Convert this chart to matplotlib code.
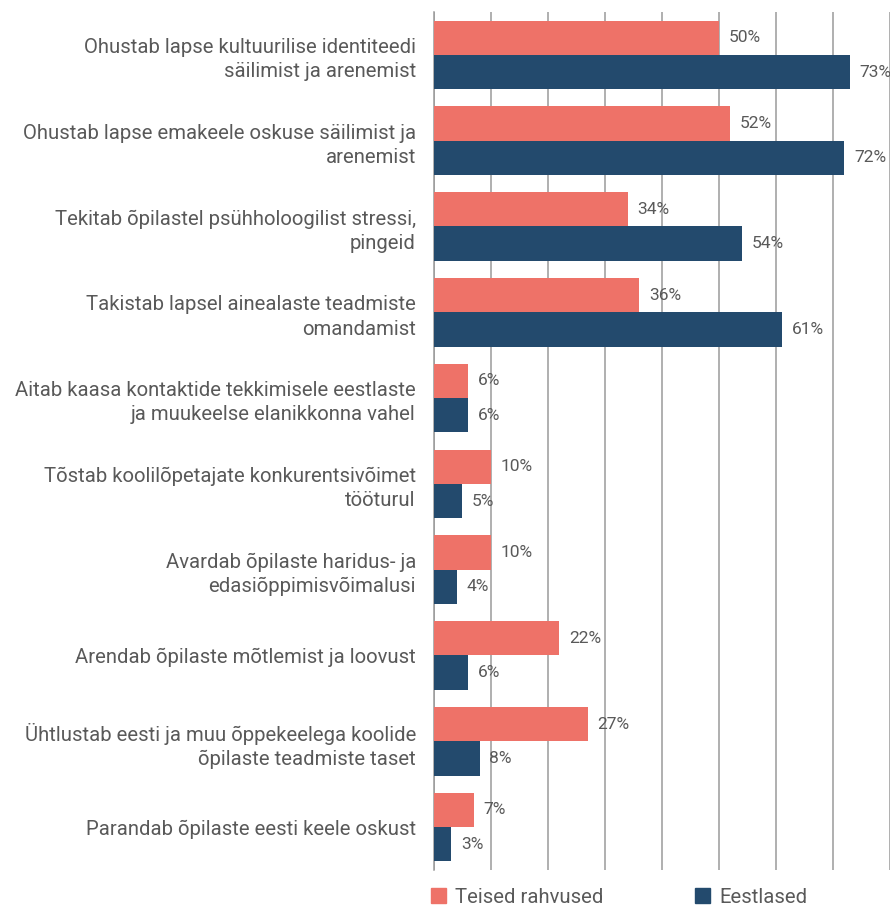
import matplotlib.pyplot as plt
import numpy as np
from matplotlib.patches import Patch

plt.rcParams['font.family'] = ['Roboto', 'DejaVu Sans']

categories = [
    'Ohustab lapse kultuurilise identiteedi\nsäilimist ja arenemist',
    'Ohustab lapse emakeele oskuse säilimist ja\narenemist',
    'Tekitab õpilastel psühholoogilist stressi,\npingeid',
    'Takistab lapsel ainealaste teadmiste\nomandamist',
    'Aitab kaasa kontaktide tekkimisele eestlaste\nja muukeelse elanikkonna vahel',
    'Tõstab koolilõpetajate konkurentsivõimet\ntööturul',
    'Avardab õpilaste haridus- ja\nedasiõppimisvõimalusi',
    'Arendab õpilaste mõtlemist ja loovust',
    'Ühtlustab eesti ja muu õppekeelega koolide\nõpilaste teadmiste taset',
    'Parandab õpilaste eesti keele oskust',
]
teised = [50, 52, 34, 36, 6, 10, 10, 22, 27, 7]
eestlased = [73, 72, 54, 61, 6, 5, 4, 6, 8, 3]
series_names = ['Teised rahvused', 'Eestlased']

pink = '#EE7268'
navy = '#234A6D'
grey_text = '#595959'

fig = plt.figure(figsize=(8.9, 9.07), dpi=100)
ax = fig.add_axes([0.4876, 0.0408, 0.5124, 0.946])

y = np.arange(len(categories))
h = 0.4
bars1 = ax.barh(y - h / 2, teised, height=h, color=pink, zorder=3)
bars2 = ax.barh(y + h / 2, eestlased, height=h, color=navy, zorder=3)

# percentage labels just past the end of each bar
for bars, vals in [(bars1, teised), (bars2, eestlased)]:
    for b, v in zip(bars, vals):
        ax.text(v + 1.7, b.get_y() + b.get_height() / 2, f'{v}%',
                va='center', ha='left', fontsize=12.5, color=grey_text)

ax.set_xlim(0, 80)
ax.set_ylim(len(categories) - 0.5, -0.5)
ax.set_xticks(np.arange(0, 81, 10))
ax.set_xticklabels([])
ax.tick_params(axis='x', length=0)
ax.grid(axis='x', color='#9a9a9a', linewidth=1.1, zorder=0)
ax.set_yticks(y)
ax.set_yticklabels(categories, fontsize=14.6, color=grey_text, linespacing=1.35)
ax.tick_params(axis='y', length=0, pad=13)
for s in ['top', 'right', 'bottom']:
    ax.spines[s].set_visible(False)
ax.spines['left'].set_color('#9a9a9a')
ax.spines['left'].set_linewidth(1.1)

handles = [Patch(color=pink, label=series_names[0]),
           Patch(color=navy, label=series_names[1])]
fig.legend(handles=handles, ncol=2, loc='center left',
           bbox_to_anchor=(0.4635, 0.011), frameon=False,
           fontsize=14.6, labelcolor=grey_text, handlelength=0.75,
           handleheight=0.75, handletextpad=0.45, columnspacing=4.5)

fig.savefig('out.png', dpi=100, facecolor='white')
